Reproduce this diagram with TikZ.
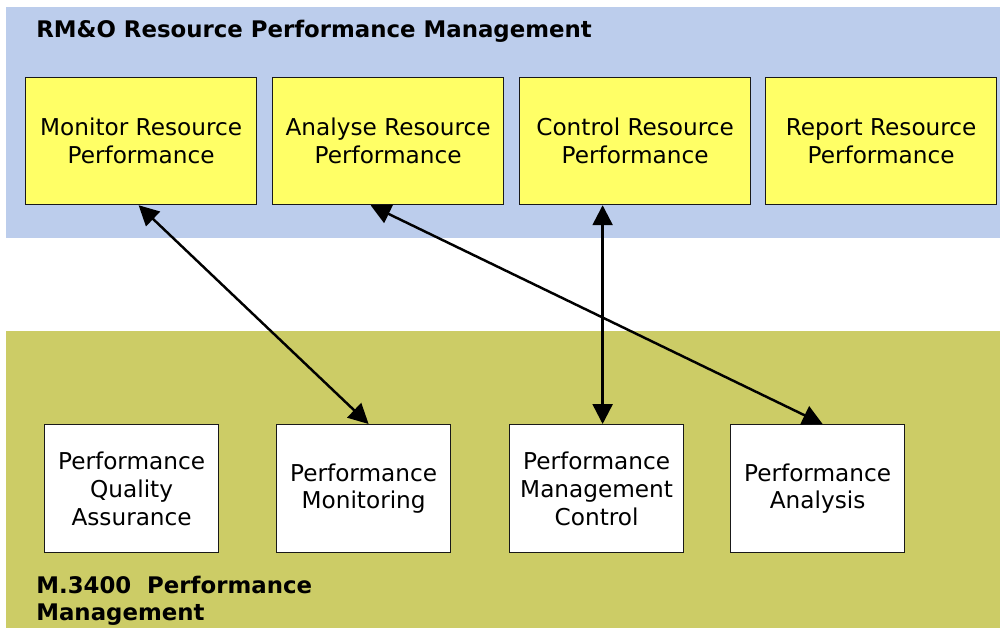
\documentclass[tikz,border=0pt]{standalone}
\usepackage{fontspec}
\setmainfont{DejaVu Sans}
\usetikzlibrary{arrows.meta,calc}
\definecolor{bandblue}{RGB}{188,205,236}
\definecolor{bandolive}{RGB}{204,204,102}
\definecolor{boxyellow}{RGB}{255,255,102}
\tikzset{
  ybox/.style={draw=black!90, line width=0.7pt, fill=boxyellow, minimum width=231*0.02cm, minimum height=127*0.02cm, anchor=north west, align=center, font=\fontsize{13.2}{15.9}\selectfont, inner sep=0pt},
  wbox/.style={draw=black!90, line width=0.7pt, fill=white, minimum width=174*0.02cm, minimum height=128*0.02cm, anchor=north west, align=center, font=\fontsize{13.2}{15.9}\selectfont, inner sep=0pt},
  title/.style={anchor=north west, align=left, font=\bfseries\fontsize{13.0}{15.5}\selectfont, inner sep=0pt},
  link/.style={line width=1.4pt, {Triangle[length=0.4cm,width=0.4cm]}-{Triangle[length=0.4cm,width=0.4cm]}}
}
\begin{document}
\begin{tikzpicture}[x=0.02cm,y=-0.02cm]
\useasboundingbox (0,0) rectangle (1000,628);
\fill[white] (0,0) rectangle (1000,628);
% bands
\fill[bandblue] (6,7) rectangle (1000,238);
\fill[bandolive] (6,331) rectangle (1000,628);
% titles
\node[title] (t1) at (36,20) {RM\&O Resource Performance Management};
\node[title] (t2) at (36,576) {M.3400\ \ Performance\\Management};
% yellow boxes
\node[ybox] (mon) at (25,77) {Monitor Resource\\Performance};
\node[ybox] (ana) at (272,77) {Analyse Resource\\Performance};
\node[ybox] (ctl) at (519,77) {Control Resource\\Performance};
\node[ybox] (rep) at (765,77) {Report Resource\\Performance};
% white boxes
\node[wbox] (pqa) at (44,424) {Performance\\Quality\\Assurance};
\node[wbox] (pm) at (276,424) {Performance\\Monitoring};
\node[wbox] (pmc) at (509,424) {Performance\\Management\\Control};
\node[wbox] (pa) at (730,424) {Performance\\Analysis};
% connectors
\draw[link] ($(mon.south)+(-2.5,0)$) -- ($(pm.north)+(5,0)$);
\draw[link] ($(ana.south)+(-17.5,0)$) -- ($(pa.north)+(5,0)$);
\draw[link] ($(ctl.south)+(-32.5,0)$) -- ($(pmc.north)+(6,0)$);
\end{tikzpicture}
\end{document}
